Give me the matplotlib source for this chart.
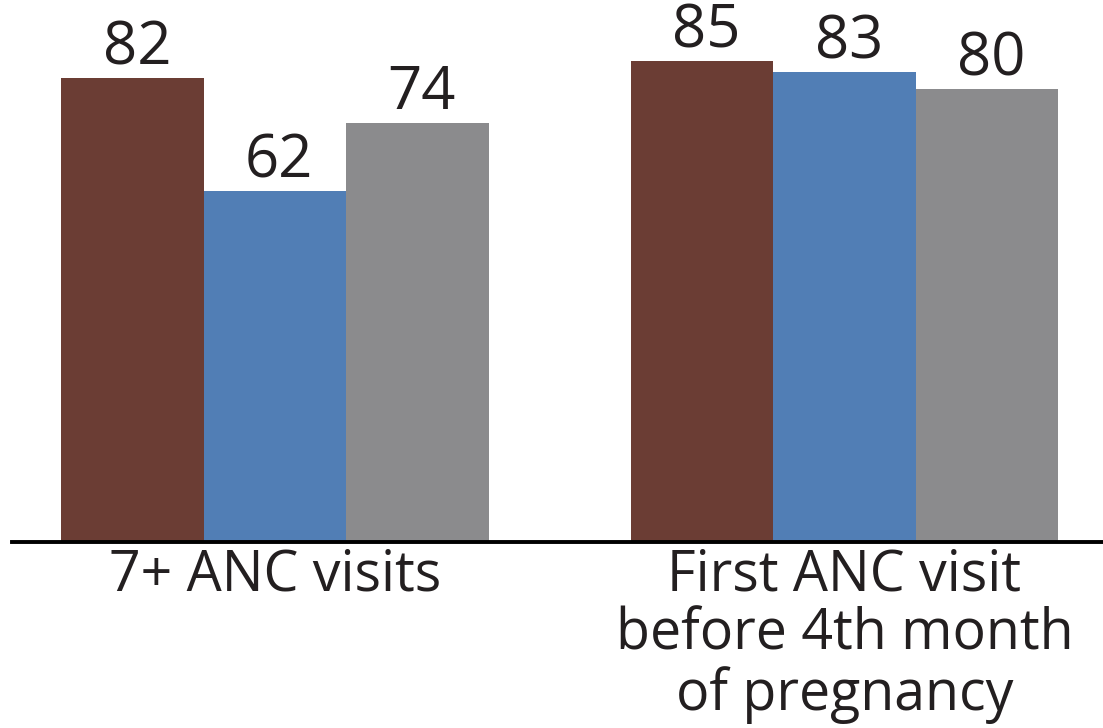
import matplotlib.pyplot as plt
import numpy as np

# data
categories = ["7+ ANC visits", "First ANC visit\nbefore 4th month\nof pregnancy"]
series_a = [82, 85]
series_b = [62, 83]
series_c = [74, 80]

colors = ["#6B3D34", "#517EB5", "#8B8B8D"]
text_color = "#231F20"

plt.rcParams['font.family'] = ['Open Sans', 'DejaVu Sans']

fig = plt.figure(figsize=(11.03, 7.28), dpi=100)
ax = fig.add_axes([12/1103, 186/728, 1091/1103, 542/728])

x = np.arange(len(categories))
bar_width = 0.25

for i, (vals, c) in enumerate(zip([series_a, series_b, series_c], colors)):
    pos = x + (i - 1) * bar_width
    ax.bar(pos, vals, width=bar_width, color=c, zorder=2)
    for p, v in zip(pos, vals):
        ax.annotate(f"{v}", (p, v), xytext=(3, 10), textcoords='offset points',
                    ha='center', va='baseline', fontsize=43, color=text_color)

ax.set_xlim(-0.4618, 1.454)
ax.set_ylim(0, 95.8)

ax.set_xticks(x)
ax.set_xticklabels(categories, fontsize=40, color=text_color, linespacing=1.05)
ax.tick_params(axis='x', length=0, pad=4)
ax.set_yticks([])

for side in ['top', 'right', 'left']:
    ax.spines[side].set_visible(False)
ax.spines['bottom'].set_linewidth(2.8)
ax.spines['bottom'].set_color('black')
ax.spines['bottom'].set_zorder(3)

plt.savefig("out.png", dpi=100)
